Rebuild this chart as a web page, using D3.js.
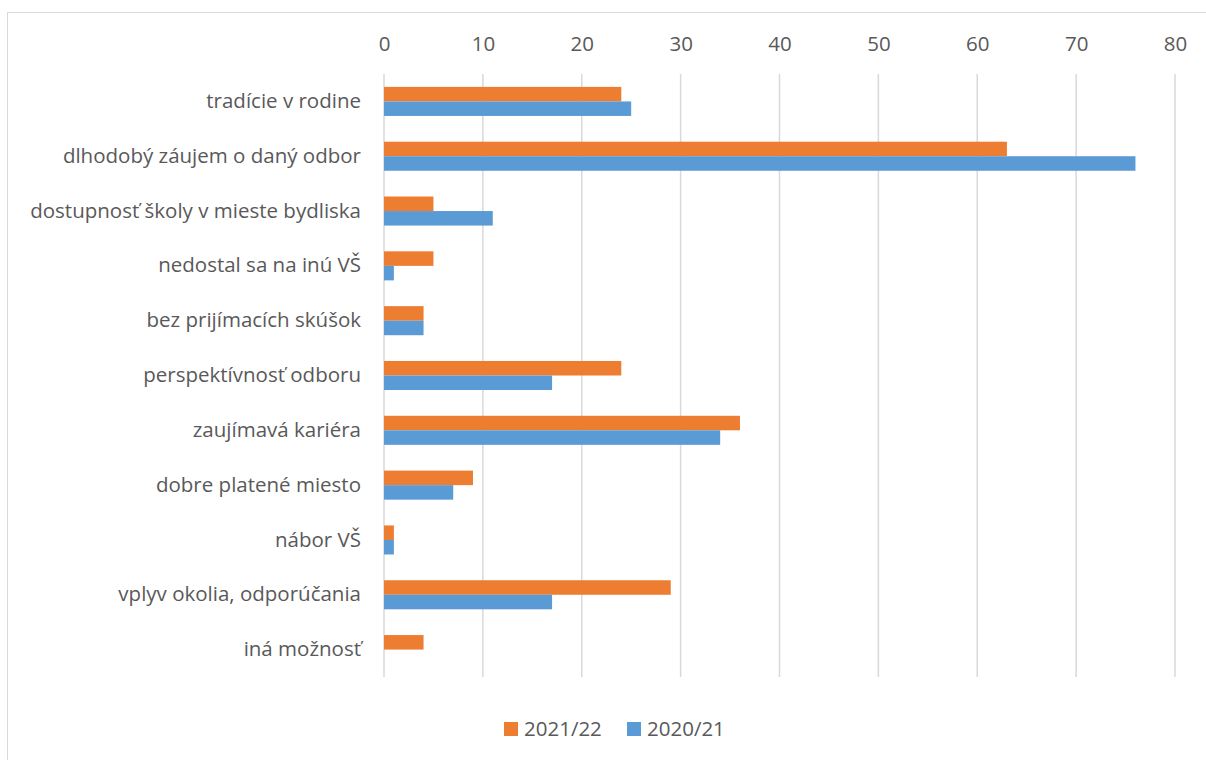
<!DOCTYPE html>
<html>
<head>
<meta charset="utf-8">
<script src="https://cdn.jsdelivr.net/npm/d3@7"></script>
<style>
  body { margin: 0; background: #fff; }
  svg { display: block; }
</style>
</head>
<body>
<div id="chart"></div>
<script>
var categories = [
  "tradície v rodine",
  "dlhodobý záujem o daný odbor",
  "dostupnosť školy v mieste bydliska",
  "nedostal sa na inú VŠ",
  "bez prijímacích skúšok",
  "perspektívnosť odboru",
  "zaujímavá kariéra",
  "dobre platené miesto",
  "nábor VŠ",
  "vplyv okolia, odporúčania",
  "iná možnosť"
];
var seriesNames = ["2021/22", "2020/21"];
var values2122 = [24, 63, 5, 5, 4, 24, 36, 9, 1, 29, 4];
var values2021 = [25, 76, 11, 1, 4, 17, 34, 7, 1, 17, 0];
var ticks = [0, 10, 20, 30, 40, 50, 60, 70, 80];
var colors = ["#ed7d31", "#5b9bd5"];

var W = 1206, H = 760;
var margin = { left: 384, right: 31, top: 74, bottom: 83 };
var fontFamily = "'Open Sans', sans-serif";
var fontSize = "20.5px";
var textColor = "#595959";

var svg = d3.select("#chart").append("svg")
  .attr("width", W)
  .attr("height", H);

// chart border
svg.append("rect")
  .attr("x", 7.5)
  .attr("y", 12.5)
  .attr("width", W)
  .attr("height", H)
  .attr("fill", "none")
  .attr("stroke", "#d9d9d9");

var x = d3.scaleLinear()
  .domain([0, 80])
  .range([margin.left, W - margin.right]);

var y = d3.scaleBand()
  .domain(categories)
  .range([margin.top, H - margin.bottom])
  .paddingInner(0.47)
  .paddingOuter(0.235);

var ySub = d3.scaleBand()
  .domain(seriesNames)
  .range([0, y.bandwidth()]);

// gridlines
svg.append("g")
  .selectAll("line")
  .data(ticks)
  .enter()
  .append("line")
  .attr("x1", function (d) { return x(d); })
  .attr("x2", function (d) { return x(d); })
  .attr("y1", margin.top)
  .attr("y2", H - margin.bottom)
  .style("stroke", "#d9d9d9")
  .style("stroke-width", "1.5px");

// top axis labels
var xAxis = svg.append("g")
  .attr("transform", "translate(0," + (margin.top - 23) + ")")
  .call(d3.axisTop(x).tickValues(ticks).tickSize(0).tickPadding(0));
xAxis.select(".domain").remove();
xAxis.selectAll("text")
  .style("font-family", fontFamily)
  .style("font-size", fontSize)
  .attr("fill", textColor);

// category labels
var yAxis = svg.append("g")
  .attr("transform", "translate(" + (margin.left - 23) + ",0)")
  .call(d3.axisLeft(y).tickSize(0).tickPadding(0));
yAxis.select(".domain").remove();
yAxis.selectAll("text")
  .style("font-family", fontFamily)
  .style("font-size", fontSize)
  .attr("fill", textColor);

// bars
var rows = categories.map(function (c, i) {
  return { cat: c, vals: [values2122[i], values2021[i]] };
});

var groups = svg.append("g")
  .selectAll("g")
  .data(rows)
  .enter()
  .append("g")
  .attr("transform", function (d) { return "translate(0," + y(d.cat) + ")"; });

groups.selectAll("rect")
  .data(function (d) {
    return d.vals.map(function (v, k) { return { name: seriesNames[k], value: v, k: k }; });
  })
  .enter()
  .append("rect")
  .attr("x", x(0))
  .attr("y", function (d) { return ySub(d.name); })
  .attr("width", function (d) { return x(d.value) - x(0); })
  .attr("height", ySub.bandwidth())
  .attr("fill", function (d) { return colors[d.k]; });

// legend
var legendX = [504, 627];
var legend = svg.append("g")
  .selectAll("g")
  .data(seriesNames)
  .enter()
  .append("g")
  .attr("transform", function (d, i) { return "translate(" + legendX[i] + ",722)"; });

legend.append("rect")
  .attr("width", 14)
  .attr("height", 14)
  .attr("fill", function (d, i) { return colors[i]; });

legend.append("text")
  .attr("x", 20)
  .attr("y", 7)
  .attr("dy", "0.35em")
  .style("font-family", fontFamily)
  .style("font-size", fontSize)
  .attr("fill", textColor)
  .text(function (d) { return d; });
</script>
</body>
</html>
